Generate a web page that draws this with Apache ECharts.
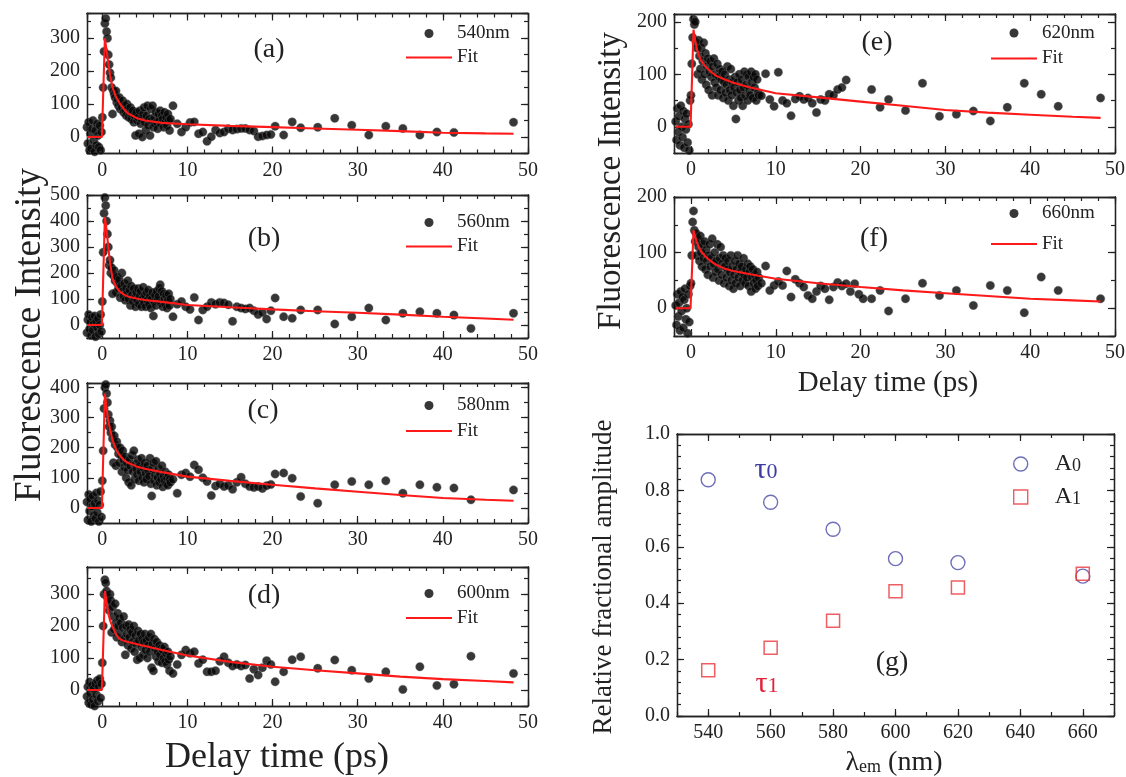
<!DOCTYPE html>
<html>
<head>
<meta charset="utf-8">
<title>Fluorescence decay</title>
<script src="https://cdn.jsdelivr.net/npm/echarts@6/dist/echarts.min.js"></script>
<style>
  html, body { margin: 0; padding: 0; background: #fff; }
  #main { width: 1126px; height: 777px; }
</style>
</head>
<body>
<div id="main"></div>
<script>
// delay times (ps) shared by the six decay traces
const delayPs = [
  -1.8, -1.7, -1.6, -1.5, -1.4, -1.3, -1.2, -1.1, -1.0, -0.9, -0.8, -0.7, -0.6, -0.5, -0.4, -0.3, -0.2, -0.1,
  0.0, 0.1, 0.2, 0.3, 0.4, 0.5, 0.6, 0.7, 0.8, 0.9, 1.0, 1.1, 1.2, 1.3, 1.4, 1.5, 1.6, 1.7, 1.8, 1.9,
  2.0, 2.1, 2.2, 2.3, 2.4, 2.5, 2.6, 2.7, 2.8, 2.9, 3.0, 3.1, 3.2, 3.3, 3.4, 3.5, 3.6, 3.7, 3.8, 3.9,
  4.0, 4.1, 4.2, 4.3, 4.4, 4.5, 4.6, 4.7, 4.8, 4.9, 5.0, 5.1, 5.2, 5.3, 5.4, 5.5, 5.6, 5.7, 5.8, 5.9,
  6.0, 6.1, 6.2, 6.3, 6.4, 6.5, 6.6, 6.7, 6.8, 6.9, 7.0, 7.1, 7.2, 7.3, 7.4, 7.5, 7.6, 7.7, 7.8, 7.9, 8.0,
  8.3, 8.8, 9.3, 9.8, 10.3, 10.8, 11.3, 11.8, 12.3, 12.8, 13.3, 13.8, 14.3, 14.8, 15.3, 15.8, 16.3, 16.8,
  17.3, 17.8, 18.3, 18.8, 19.3, 19.8, 20.3, 21.3, 22.3, 23.3, 25.3, 27.3, 29.3, 31.3, 33.3, 35.3, 37.3,
  39.3, 41.3, 43.3, 48.3
];

// measured counts, one array per emission wavelength
const count540 = [
  30, -20, 45, -40, 10, -35, 25, 50, -10, -45, 20, -25, 40, 5, -30, 35, -40, 15,
  60, 150, 260, 345, 360, 320, 300, 250, 220, 195, 180, 150, 70, 140, 130, 120, 140, 105, 115, 95,
  120, 85, 100, 90, 110, 75, 95, 80, 65, 100, 85, 60, 75, 90, 55, 70, 80, 45, 65, 5,
  75, 50, 60, 10, 80, 40, 55, 0, 70, 90, 45, 20, 65, 95, 35, 55, 5, 85, 50, 95,
  30, 60, 40, 75, 45, 25, 70, 50, 80, 40, 65, 55, 30, 75, 45, 60, 35, 70, 50, 20, 55,
  95, 40, 15, 30, 44, 46, 10, 15, -13, 1, 21, 12, 15, 25, 21, 24, 26, 26,
  21, 18, 1, 3, 6, 8, 33, 6, 46, 28, 30, 57, 36, 6, 33, 26, 6,
  15, 14, null, 45
];
const count560 = [
  -30, 20, 40, -15, 10, -40, 30, -20, 5, 35, -45, 15, -10, 25, -35, 0, 40, -25,
  90, 280, 430, 490, 460, 400, 350, 300, 230, 250, 200, 220, 120, 190, 210, 170, 125, 185, 160, 140,
  175, 105, 150, 200, 130, 110, 160, 95, 140, 120, 170, 100, 135, 75, 150, 115, 90, 140, 105, 70,
  125, 95, 140, 80, 110, 130, 70, 100, 145, 85, 115, 70, 125, 95, 135, 80, 110, 65, 100, 125,
  35, 90, 115, 75, 130, 95, 110, 140, 155, 85, 130, 70, 120, 100, 80, 115, 65, 95, 120, 75, 100,
  32, 80, 90, 70, 60, 106, 19, 58, 70, 87, 80, 87, 85, 78, 14, 70, 65, 62,
  65, 55, 40, 48, 23, 55, 104, 32, 26, 58, 58, 4, 32, 65, 19, 45, 51,
  45, 38, -13, 45
];
const count580 = [
  20, -40, 45, -10, 30, -45, 5, 40, -25, 15, -35, 50, -15, 25, -45, 10, 55, -30,
  90, 190, 330, 400, 410, 380, 350, 310, 270, 290, 250, 270, 230, 150, 240, 210, 140, 220, 200, 180,
  150, 200, 175, 120, 190, 160, 135, 170, 100, 150, 125, 85, 160, 140, 75, 175, 120, 190, 95, 145,
  130, 110, 160, 90, 140, 120, 165, 100, 135, 85, 150, 115, 95, 140, 125, 105, 165, 80, 40, 130,
  150, 90, 110, 155, 75, 100, 130, 85, 115, 95, 140, 70, 105, 90, 120, 80, 100, 75, 110, 95, 85,
  95, 49, 110, 116, 104, 143, 127, 100, 88, 41, 73, 80, 71, 75, 62, 85, 102, 80,
  71, 68, 71, 65, 74, 78, 113, 116, 99, 38, 16, 77, 88, 77, 90, 49, 77,
  69, 66, 27, 60
];
const count600 = [
  -20, 10, -40, 25, -10, -45, 15, -30, 5, -50, 20, -15, 30, -35, 10, 35, -25, 20,
  85, 200, 300, 345, 335, 310, 290, 270, 250, 300, 280, 180, 260, 230, 190, 270, 210, 165, 240, 200,
  225, 175, 210, 150, 195, 230, 160, 110, 200, 175, 140, 205, 165, 190, 130, 180, 150, 200, 120, 170,
  145, 95, 185, 155, 100, 175, 135, 160, 110, 150, 175, 125, 155, 100, 140, 165, 120, 175, 70, 145,
  60, 160, 130, 105, 150, 120, 90, 140, 110, 130, 85, 125, 100, 135, 90, 115, 80, 120, 95, 60, 105,
  52, 80, 110, 125, 115, 120, 83, 95, 57, 57, 60, 90, 104, 85, 75, 80, 75, 78,
  36, 65, 47, 70, 92, 80, 26, 57, 95, 104, 68, 94, 62, 36, 57, 2, 73,
  14, 18, 106, 52
];
const count620 = [
  10, -25, 35, -10, 20, -35, 40, 0, -20, 30, -40, 15, -5, 25, -30, 5, -45, 50,
  60, 120, 170, 205, 195, 200, 160, 150, 100, 165, 135, 110, 150, 90, 125, 160, 100, 140, 80, 115,
  130, 70, 105, 125, 95, 60, 115, 130, 85, 100, 75, 120, 60, 95, 110, 70, 90, 105, 55, 85,
  100, 65, 80, 115, 50, 90, 70, 110, 60, 85, 40, 75, 95, 15, 65, 85, 50, 100, 70, 55,
  90, 40, 75, 105, 60, 80, 100, 50, 95, 70, 60, 105, 85, 55, 95, 75, 100, 50, 90, 65, 60,
  59, 101, 52, 39, 104, 50, 45, 21, 53, 58, 52, 55, 45, 27, 52, 50, 62, 60,
  71, 75, 89, null, null, null, null, 71, 37, 52, 31, 83, 20, 24, 30, 11, 37,
  83, 62, 39, 55
];
const count660 = [
  5, -30, 25, -15, 10, -40, 30, -5, 20, -35, 15, 35, -20, 0, -45, 25, -25, 40,
  45, 95, 155, 175, 140, 120, 135, 95, 125, 110, 85, 130, 100, 75, 115, 90, 120, 70, 105, 85,
  60, 95, 115, 75, 90, 125, 55, 80, 100, 65, 85, 115, 70, 50, 90, 110, 60, 80, 95, 45,
  75, 90, 55, 70, 85, 40, 65, 95, 50, 75, 35, 60, 85, 45, 70, 95, 55, 80, 40, 65,
  75, 50, 90, 60, 45, 70, 55, 80, 40, 65, 75, 30, 55, 70, 45, 60, 35, 50, 65, 40, 55,
  45, 76, 32, 41, 48, 41, 67, 20, 52, 45, 38, 23, 17, 30, 40, 35, 15, 38,
  46, 40, 44, 30, 44, 25, 17, 17, 32, -5, 17, 45, 23, 32, 5, 41, 32,
  -8, 56, 32, 17
];

// fitted curves
const fitPs = [-1.8, -0.05, 0.3, 0.5, 0.7, 0.9, 1.2, 1.6, 2, 2.5, 3, 4, 5, 7, 10, 15, 20, 25, 30, 35, 40, 45, 48.3];
const fit540 = [0, 0, 300, 262, 225, 190, 150, 122, 104, 86, 72, 58, 50, 43, 39, 34, 30, 26, 22, 18, 13, 11, 10];
const fit560 = [0, 0, 415, 365, 300, 240, 178, 148, 130, 118, 110, 102, 96, 89, 77, 68, 60, 53, 47, 40, 32, 25, 20];
const fit580 = [0, 0, 380, 330, 290, 262, 225, 195, 176, 160, 150, 138, 130, 119, 104, 90, 77, 65, 54, 43, 33, 27, 24];
const fit600 = [0, 0, 310, 275, 240, 218, 198, 175, 161, 154, 150, 144, 138, 125, 108, 88, 73, 62, 52, 42, 34, 28, 24];
const fit620 = [0, 0, 185, 165, 148, 137, 126, 117, 110, 103, 97, 90, 84, 75, 64, 56, 48, 40, 32, 27, 23, 19, 17];
const fit660 = [0, 0, 140, 128, 118, 110, 102, 95, 89, 83, 78, 71, 67, 61, 53, 45, 38, 32, 27, 22, 17, 14, 12];

// panel (g): relative fractional amplitudes
const emissionNm = [540, 560, 580, 600, 620, 660];
const ampA0 = [0.838, 0.758, 0.662, 0.558, 0.544, 0.496];
const ampA1 = [0.162, 0.242, 0.338, 0.442, 0.456, 0.504];

const FONT = '"Liberation Serif", "Times New Roman", serif';
const INK = '#222';
const RED = '#ff1a1a';
const LINE_ICON = 'path://M0,0L48,0L48,2.2L0,2.2Z';
const SQUARE_ICON = 'path://M0,0L10,0L10,10L0,10Z';

function pairs(xs, ys) {
  const out = [];
  xs.forEach((x, i) => { if (ys[i] !== null) out.push([x, ys[i]]); });
  return out;
}

function onStep(v, step) {
  const r = v / step;
  return Math.abs(r - Math.round(r)) < 1e-6;
}

// per direction: labelled major axis, minor-tick axis, and the mirrored pair on the far side.
// the tick step is pinned with minInterval/maxInterval so ticks land on multiples of it.
function axisSet(dim, gridIndex, min, max, major, minor, fmt) {
  const sideA = dim === 'x' ? 'bottom' : 'left';
  const sideB = dim === 'x' ? 'top' : 'right';
  const line = { show: true, onZero: false, lineStyle: { color: INK, width: 1.3 } };
  const make = (pos, step, len, labels) => ({
    type: 'value', gridIndex, min, max, position: pos,
    minInterval: step, maxInterval: step,
    splitLine: { show: false }, axisLine: line,
    axisTick: { show: true, inside: true, length: len, lineStyle: { color: INK, width: 1.2 } },
    axisLabel: labels ? {
      show: true,
      // ECharts also labels the extent ends; keep them only when they sit on the step
      showMinLabel: onStep(min, step), showMaxLabel: onStep(max, step),
      fontFamily: FONT, fontSize: 20, color: INK, margin: 7, formatter: fmt
    } : { show: false }
  });
  return [
    make(sideA, major, 7, true),
    make(sideA, minor, 4, false),
    make(sideB, major, 7, false),
    make(sideB, minor, 4, false)
  ];
}

const panels = [
  { name: '540nm', tag: '(a)', counts: count540, fit: fit540, yMin: -50, yMax: 375,
    box: { left: 87, top: 13.5, width: 441, height: 140 },
    xMin: -1.8, legend: { left: 401, top: 19, gap: 5 }, tagAt: [269, 50] },
  { name: '560nm', tag: '(b)', counts: count560, fit: fit560, yMin: -50, yMax: 500,
    box: { left: 87, top: 195, width: 441, height: 143 },
    xMin: -1.8, legend: { left: 401, top: 208, gap: 5 }, tagAt: [264, 239] },
  { name: '580nm', tag: '(c)', counts: count580, fit: fit580, yMin: -50, yMax: 415,
    box: { left: 87, top: 383, width: 441, height: 140 },
    xMin: -1.8, legend: { left: 401, top: 391, gap: 6.5 }, tagAt: [263, 411] },
  { name: '600nm', tag: '(d)', counts: count600, fit: fit600, yMin: -50, yMax: 385,
    box: { left: 87, top: 567, width: 441, height: 139 },
    xMin: -1.8, legend: { left: 401, top: 579, gap: 5.5 }, tagAt: [264, 596] },
  { name: '620nm', tag: '(e)', counts: count620, fit: fit620, yMin: -50, yMax: 215,
    box: { left: 674, top: 14, width: 441, height: 139 },
    xMin: -2, legend: { left: 986, top: 18.5, gap: 6.5 }, tagAt: [877, 43] },
  { name: '660nm', tag: '(f)', counts: count660, fit: fit660, yMin: -50, yMax: 200,
    box: { left: 674, top: 197, width: 441, height: 139 },
    xMin: -2, legend: { left: 986, top: 199, gap: 11.5 }, tagAt: [874, 239] }
];

const grid = [], xAxis = [], yAxis = [], series = [], legend = [], graphic = [];

panels.forEach((p, i) => {
  grid.push(Object.assign({ show: false, outerBoundsMode: 'none' }, p.box));
  xAxis.push(...axisSet('x', i, p.xMin, 50, 10, 2));
  yAxis.push(...axisSet('y', i, p.yMin, p.yMax, 100, 50));
  series.push({
    type: 'scatter', name: p.name, xAxisIndex: 4 * i, yAxisIndex: 4 * i,
    data: pairs(delayPs, p.counts), symbol: 'circle', symbolSize: 8.5,
    itemStyle: { color: '#050505', borderColor: '#6e6e6e', borderWidth: 0.5 }, z: 2
  });
  series.push({
    type: 'line', name: 'Fit', xAxisIndex: 4 * i, yAxisIndex: 4 * i,
    data: pairs(fitPs, p.fit), symbol: 'none', showSymbol: false, color: RED,
    itemStyle: { color: RED }, lineStyle: { color: RED, width: 2.1 }, z: 3
  });
  legend.push({
    orient: 'vertical', left: p.legend.left, top: p.legend.top, itemGap: p.legend.gap,
    itemWidth: 46, itemHeight: 9, selectedMode: false,
    data: [{ name: p.name, icon: 'circle' }, { name: 'Fit', icon: LINE_ICON }],
    itemStyle: { borderWidth: 0 },
    textStyle: { fontFamily: FONT, fontSize: 19, color: INK }
  });
  graphic.push({ type: 'text', x: p.tagAt[0], y: p.tagAt[1],
    style: { text: p.tag, font: '28px ' + FONT, fill: INK, textAlign: 'center', textVerticalAlign: 'middle' } });
});

// panel (g)
const g = panels.length;
grid.push({ show: false, outerBoundsMode: 'none', left: 677, top: 434, width: 437, height: 282 });
xAxis.push(...axisSet('x', g, 530, 670, 20, 10));
yAxis.push(...axisSet('y', g, 0, 1, 0.2, 0.04, v => v.toFixed(1)));
series.push({
  type: 'scatter', name: 'A0', xAxisIndex: 4 * g, yAxisIndex: 4 * g,
  data: pairs(emissionNm, ampA0), symbol: 'circle', symbolSize: 14,
  itemStyle: { color: 'rgba(255,255,255,0)', borderColor: '#4a4aa8', borderWidth: 1.4 }, z: 2
});
series.push({
  type: 'scatter', name: 'A1', xAxisIndex: 4 * g, yAxisIndex: 4 * g,
  data: pairs(emissionNm, ampA1), symbol: 'rect', symbolSize: 13,
  itemStyle: { color: 'rgba(255,255,255,0)', borderColor: '#e8353a', borderWidth: 1.5 }, z: 3
});
legend.push({
  orient: 'vertical', left: 1008, top: 447, itemGap: 9, itemWidth: 14, itemHeight: 14,
  selectedMode: false,
  data: [{ name: 'A0', icon: 'circle' }, { name: 'A1', icon: SQUARE_ICON }],
  itemStyle: { borderWidth: 1.4 },
  formatter: n => '{g|}{a|A}{s|' + n.slice(1) + '}',
  textStyle: { fontFamily: FONT, color: INK,
    rich: { g: { width: 22 }, a: { fontFamily: FONT, fontSize: 24, color: INK },
      s: { fontFamily: FONT, fontSize: 18, color: INK, padding: [4, 0, 0, 0] } } }
});

const tauRich = color => ({
  t: { fontFamily: FONT, fontSize: 30, fill: color, color },
  d: { fontFamily: FONT, fontSize: 22, fill: color, color, padding: [4, 0, 0, 0] }
});

graphic.push(
  { type: 'text', x: 30, y: 335, rotation: Math.PI / 2,
    style: { text: 'Fluorescence Intensity', font: '37px ' + FONT, fill: INK, textAlign: 'center', textVerticalAlign: 'middle' } },
  { type: 'text', x: 611, y: 181, rotation: Math.PI / 2,
    style: { text: 'Fluorescence Intensity', font: '33px ' + FONT, fill: INK, textAlign: 'center', textVerticalAlign: 'middle' } },
  { type: 'text', x: 277, y: 758,
    style: { text: 'Delay time (ps)', font: '36px ' + FONT, fill: INK, textAlign: 'center', textVerticalAlign: 'middle' } },
  { type: 'text', x: 888, y: 383,
    style: { text: 'Delay time (ps)', font: '29px ' + FONT, fill: INK, textAlign: 'center', textVerticalAlign: 'middle' } },
  { type: 'text', x: 604, y: 577, rotation: Math.PI / 2,
    style: { text: 'Relative fractional amplitude', font: '27px ' + FONT, fill: INK, textAlign: 'center', textVerticalAlign: 'middle' } },
  { type: 'text', x: 894, y: 763,
    style: { text: '{l|λ}{s|em}{l| (nm)}', textAlign: 'center', textVerticalAlign: 'middle',
      rich: { l: { fontFamily: FONT, fontSize: 28, fill: INK }, s: { fontFamily: FONT, fontSize: 18, fill: INK, padding: [8, 0, 0, 0] } } } },
  { type: 'text', x: 892, y: 663,
    style: { text: '(g)', font: '28px ' + FONT, fill: INK, textAlign: 'center', textVerticalAlign: 'middle' } },
  { type: 'text', x: 766, y: 470,
    style: { text: '{t|τ}{d|0}', textAlign: 'center', textVerticalAlign: 'middle', rich: tauRich('#3d3da0') } },
  { type: 'text', x: 767, y: 684,
    style: { text: '{t|τ}{d|1}', textAlign: 'center', textVerticalAlign: 'middle', rich: tauRich('#e2223a') } }
);

const chart = echarts.init(document.getElementById('main'), null, { renderer: 'canvas' });
chart.setOption({
  backgroundColor: '#fff',
  animation: false,
  grid, xAxis, yAxis, series, legend, graphic
});
</script>
</body>
</html>
